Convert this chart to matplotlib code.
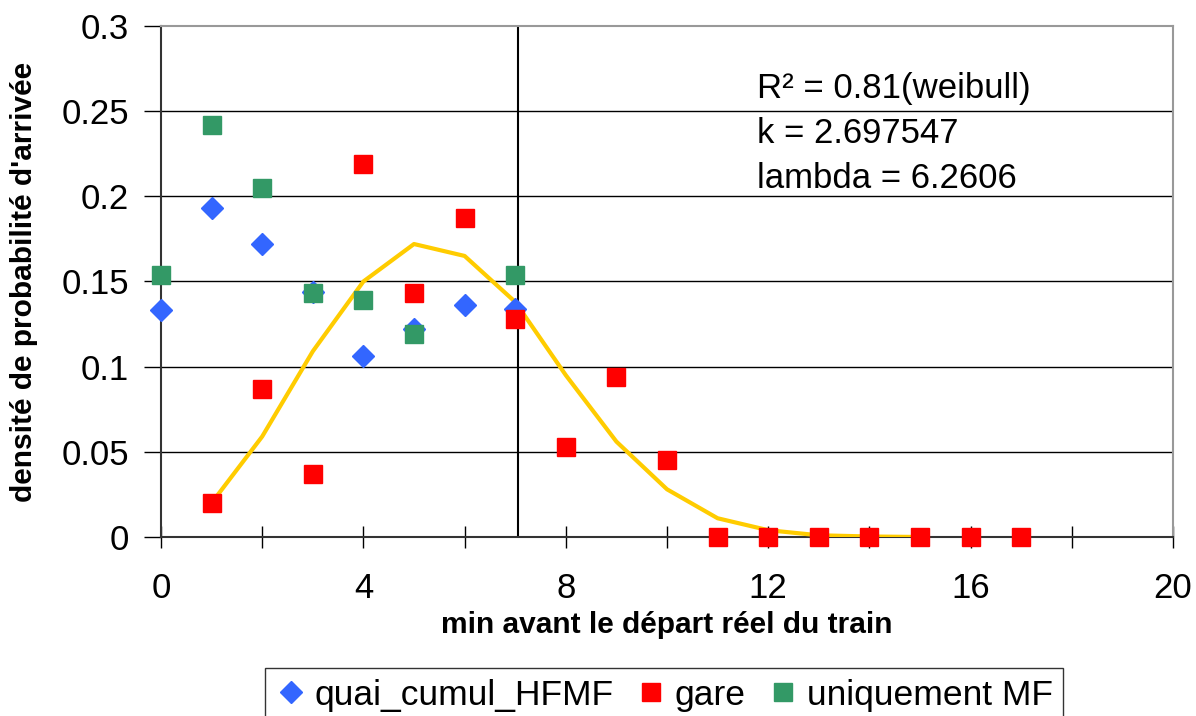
import matplotlib.pyplot as plt

plt.rcParams['font.family'] = ['Liberation Sans', 'DejaVu Sans']

# values
x_quai = [0, 1, 2, 3, 4, 5, 6, 7]
y_quai = [0.133, 0.193, 0.172, 0.144, 0.106, 0.122, 0.136, 0.134]

x_gare = [1, 2, 3, 4, 5, 6, 7, 8, 9, 10, 11, 12, 13, 14, 15, 16, 17]
y_gare = [0.020, 0.087, 0.037, 0.219, 0.143, 0.187, 0.128, 0.053, 0.094, 0.045,
          0, 0, 0, 0, 0, 0, 0]

x_mf = [0, 1, 2, 3, 4, 5, 7]
y_mf = [0.154, 0.242, 0.205, 0.143, 0.139, 0.119, 0.154]

x_weib = [1, 2, 3, 4, 5, 6, 7, 8, 9, 10, 11, 12, 13, 14, 15]
y_weib = [0.020, 0.059, 0.109, 0.150, 0.172, 0.165, 0.138, 0.095, 0.056, 0.028,
          0.011, 0.004, 0.001, 0.0003, 0.0]

x_mean = 7.06

fit_lines = ["R\u00b2 = 0.81(weibull)", "k = 2.697547", "lambda = 6.2606"]

fig = plt.figure(figsize=(11.96, 7.16), dpi=100)
ax = fig.add_axes([0.1346, 0.25, 0.8462, 0.7137])

# grid lines first so markers sit on top
for yv in [0.05, 0.1, 0.15, 0.2, 0.25]:
    ax.axhline(yv, color='black', linewidth=1, zorder=1)

ax.plot(x_weib, y_weib, color='#FFCC00', linewidth=3, zorder=3)
ax.axvline(x_mean, color='black', linewidth=1.5, zorder=2)

ax.plot(x_quai, y_quai, linestyle='none', marker='D', markersize=11.5,
        color='#3366FF', label='quai_cumul_HFMF', zorder=4, clip_on=False)
ax.plot(x_gare, y_gare, linestyle='none', marker='s', markersize=13.5,
        color='#FF0000', label='gare', zorder=4, clip_on=False)
ax.plot(x_mf, y_mf, linestyle='none', marker='s', markersize=13.5,
        color='#339966', label='uniquement MF', zorder=5, clip_on=False)

ax.set_xlim(0, 20)
ax.set_ylim(0, 0.3)
ax.set_xticks([0, 4, 8, 12, 16, 20])
ax.set_xticks([2, 6, 10, 14, 18], minor=True)
ax.set_yticks([0, 0.05, 0.1, 0.15, 0.2, 0.25, 0.3])
ax.set_yticklabels(['0', '0.05', '0.1', '0.15', '0.2', '0.25', '0.3'])
ax.tick_params(axis='y', direction='out', length=12, width=1, labelsize=25, pad=11)
ax.tick_params(axis='x', which='both', direction='inout', length=16, width=1,
               labelsize=25, pad=17)

for side in ['top', 'right']:
    ax.spines[side].set_color('#999999')
    ax.spines[side].set_linewidth(1.5)
for side in ['left', 'bottom']:
    ax.spines[side].set_color('#333333')
    ax.spines[side].set_linewidth(1.5)

ax.set_xlabel("min avant le départ réel du train", fontsize=21.5,
              fontweight='bold')
ax.set_ylabel("densité de probabilité d'arrivée", fontsize=21.5,
              fontweight='bold')
ax.xaxis.set_label_coords(0.5, -0.144)
ax.yaxis.set_label_coords(-0.122, 0.5)

for i, line in enumerate(fit_lines):
    fig.text(0.633, 1 - (98 + 45 * i) / 716, line, fontsize=25, va='baseline')

leg = fig.legend(loc='upper center', bbox_to_anchor=(0.5552, 0.067), ncol=3,
                 fontsize=25.5, frameon=True, fancybox=False, edgecolor='black',
                 markerscale=1.0, handletextpad=0.22, columnspacing=0.6,
                 handlelength=0.9, borderpad=0.3, borderaxespad=0)
leg.get_frame().set_linewidth(1)

fig.savefig("out.png", dpi=100)
